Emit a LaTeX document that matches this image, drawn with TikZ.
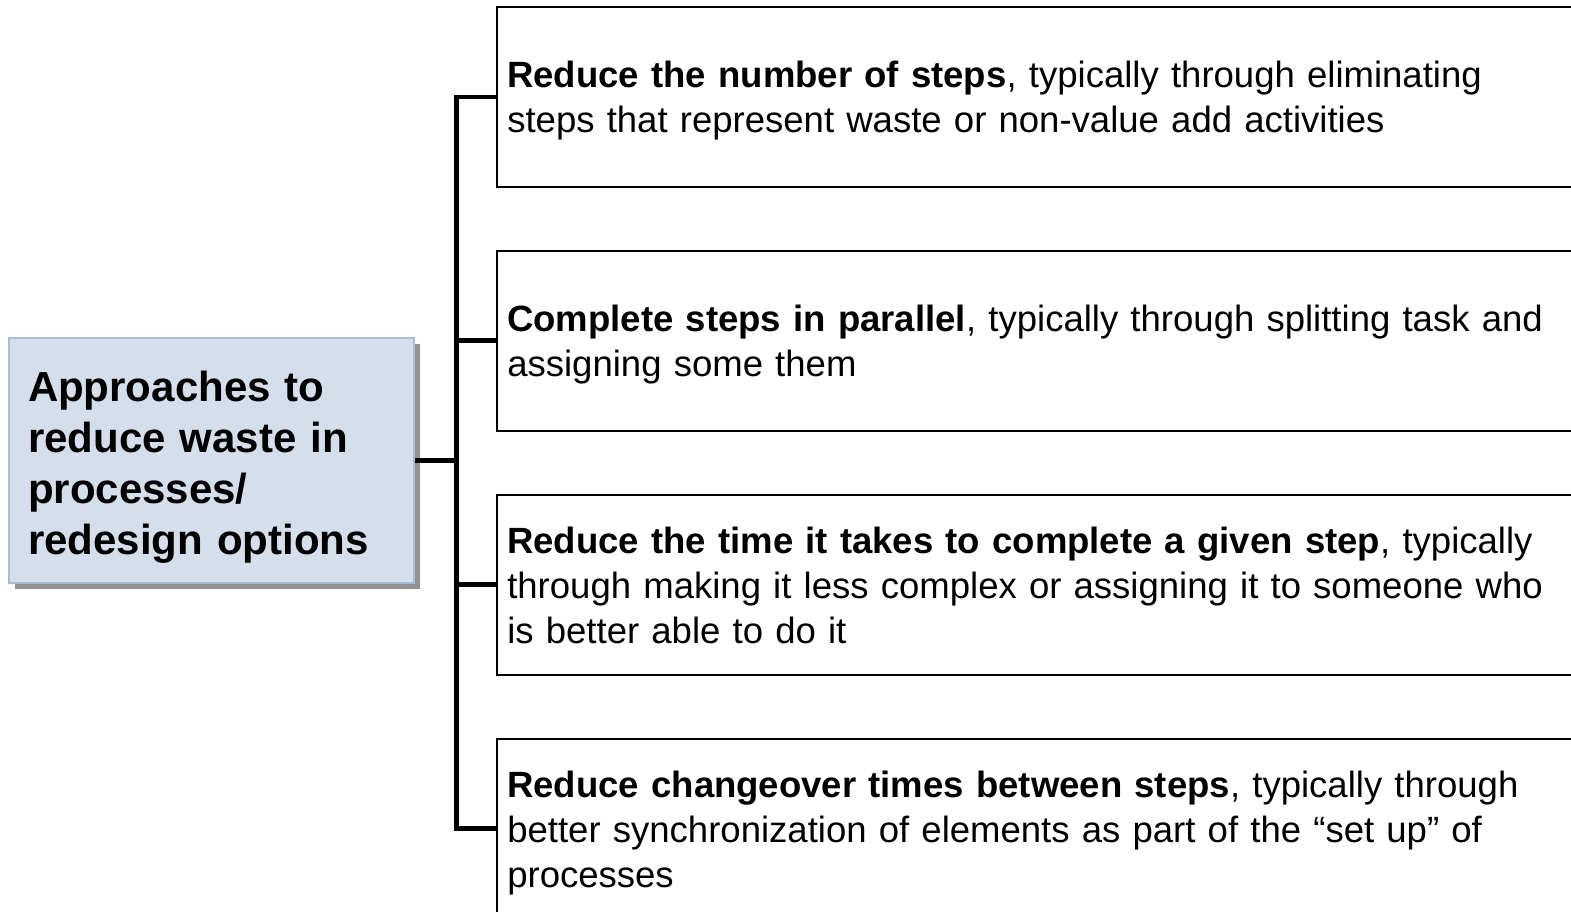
\documentclass[tikz,border=0pt]{standalone}
\usepackage{fontspec}
\setmainfont{Liberation Sans}
\usetikzlibrary{positioning, calc, shadows}
\definecolor{rootfill}{HTML}{D5DFEC}
\definecolor{rootline}{HTML}{A6BDD7}
\colorlet{shadowgray}{gray!85}

\begin{document}
\begin{tikzpicture}[
    x=0.75pt, y=-0.75pt,
    stepbox/.style={
        draw, rectangle, line width=1.4pt,
        minimum width=843pt, minimum height=135pt
    },
    steptext/.style={
        anchor=west, text width=826.5pt, inner sep=8.25pt, align=left,
        font=\fontsize{27.4}{33.75}\selectfont
    },
    rootbox/.style={
        draw=rootline, rectangle, line width=1pt, fill=rootfill,
        minimum width=303.75pt, minimum height=183.75pt,
        drop shadow={shadow xshift=4.5pt, shadow yshift=-4.5pt, fill=shadowgray, opacity=1}
    },
    roottext/.style={
        text width=275.25pt, inner sep=0pt, align=left,
        font=\bfseries\fontsize{31.5}{38.25}\selectfont
    },
    link/.style={line width=3.6pt},
    node distance=46.5pt,
]
\useasboundingbox (0,0) rectangle (1571,912);
\clip (0,0) rectangle (1571,912);

\node[rootbox] (root) at (211.5,460.5) {};
\node[roottext] (rootlabel) at ($(root.center)+(0,7)$) {Approaches to\\reduce waste in\\processes/\\redesign options};

% option boxes, stacked down the right side
\node[stepbox, anchor=west] (box1) at (496,97) {};
\node[stepbox, below=of box1] (box2) {};
\node[stepbox, below=of box2] (box3) {};
\node[stepbox, below=of box3] (box4) {};

\node[steptext] (text1) at ($(box1.west)+(0,4)$) {\textbf{Reduce the number of steps}, typically through eliminating\\steps that represent waste or non-value add activities};
\node[steptext] (text2) at ($(box2.west)+(0,4)$) {\textbf{Complete steps in parallel}, typically through splitting task and\\assigning some them};
\node[steptext] (text3) at ($(box3.west)+(0,1)$) {\textbf{Reduce the time it takes to complete a given step}, typically\\through making it less complex or assigning it to someone who\\is better able to do it};
\node[steptext] (text4) at ($(box4.west)+(0,4)$) {\textbf{Reduce changeover times between steps}, typically through\\better synchronization of elements as part of the “set up” of\\processes};

\coordinate (spine) at ($(root.east)+(42,0)$);
\draw[link] (root.east) -- (spine);
\foreach \i in {1,...,4}
    \draw[link] (spine) |- (box\i.west);
\end{tikzpicture}
\end{document}
